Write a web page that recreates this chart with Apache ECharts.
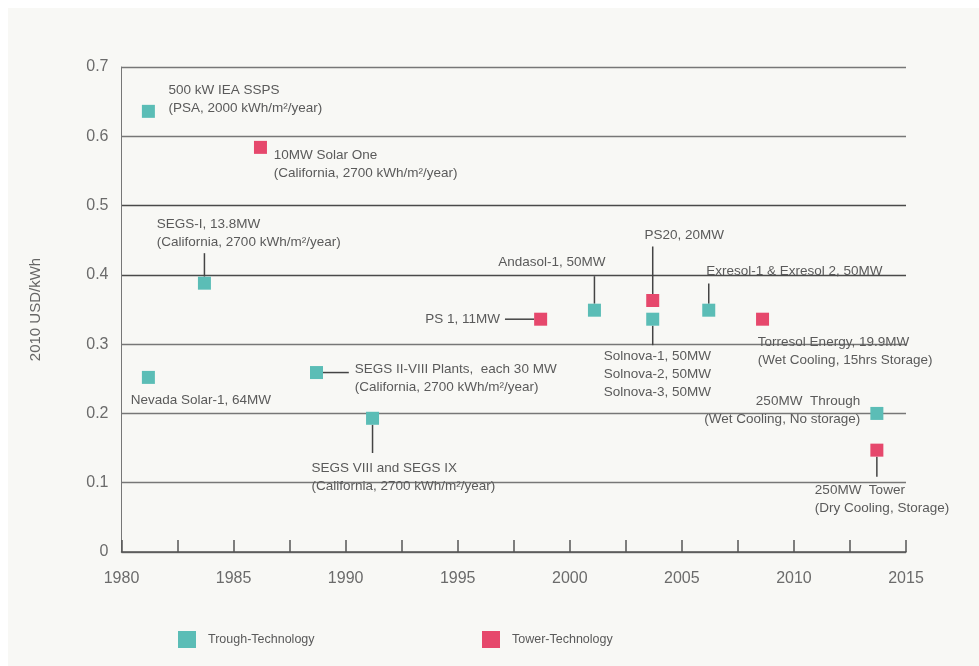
<!DOCTYPE html>
<html>
<head>
<meta charset="utf-8">
<script src="https://cdn.jsdelivr.net/npm/echarts@6/dist/echarts.min.js"></script>
<style>
  html, body { margin: 0; padding: 0; background: #ffffff; }
  #panel { position: absolute; left: 8px; top: 8px; width: 971px; height: 658px; background: #f8f8f5; }
  #chart { position: absolute; left: 0; top: 0; width: 979px; height: 666px; }
</style>
</head>
<body>
<div id="panel"></div>
<div id="chart"></div>
<script>
// ---- data ----
var troughNames = [
  '500 kW IEA SSPS\n(PSA, 2000 kWh/m²/year)',
  'SEGS-I, 13.8MW\n(California, 2700 kWh/m²/year)',
  'Nevada Solar-1, 64MW',
  'SEGS II-VIII Plants,  each 30 MW\n(California, 2700 kWh/m²/year)',
  'SEGS VIII and SEGS IX\n(California, 2700 kWh/m²/year)',
  'Andasol-1, 50MW',
  'Solnova-1, 50MW\nSolnova-2, 50MW\nSolnova-3, 50MW',
  'Exresol-1 & Exresol 2, 50MW',
  '250MW  Through\n(Wet Cooling, No storage)'
];
var troughYears = [1981.2, 1983.7, 1981.2, 1988.7, 1991.2, 2001.1, 2003.7, 2006.2, 2013.7];
var troughCosts = [0.636, 0.388, 0.252, 0.259, 0.193, 0.349, 0.336, 0.349, 0.200];

var towerNames = [
  '10MW Solar One\n(California, 2700 kWh/m²/year)',
  'PS 1, 11MW',
  'PS20, 20MW',
  'Torresol Energy, 19.9MW\n(Wet Cooling, 15hrs Storage)',
  '250MW  Tower\n(Dry Cooling, Storage)'
];
var towerYears = [1986.2, 1998.7, 2003.7, 2008.6, 2013.7];
var towerCosts = [0.584, 0.336, 0.363, 0.336, 0.147];

var yTicks = [0, 0.1, 0.2, 0.3, 0.4, 0.5, 0.6, 0.7];
var xTickLabels = [1980, 1985, 1990, 1995, 2000, 2005, 2010, 2015];

// ---- annotation layout (pixel offsets from the marker centre) ----
var troughLabelLayout = [
  { dx: 20, dy: -12.5, align: 'left' },
  { dx: -47.6, dy: -50, align: 'left' },
  { dx: -17.7, dy: 22.7, align: 'left' },
  { dx: 38.3, dy: 6, align: 'left' },
  { dx: -61, dy: 59.3, align: 'left' },
  { dx: 11, dy: -47.7, align: 'right' },
  { dx: -49, dy: 55, align: 'left' },
  { dx: -2.6, dy: -39.3, align: 'left' },
  { dx: -16.7, dy: -3.6, align: 'right' }
];
var towerLabelLayout = [
  { dx: 13.3, dy: 16.7, align: 'left' },
  { dx: -40.7, dy: 0, align: 'right' },
  { dx: -8.3, dy: -65.7, align: 'left' },
  { dx: -4.7, dy: 32.2, align: 'left' },
  { dx: -62, dy: 49.5, align: 'left' }
];
// connectors: which point, and line from/to offsets in pixels
var connectorLayout = [
  { s: 'trough', i: 1, from: [0, -30], to: [0, -6.5] },
  { s: 'trough', i: 3, from: [6.5, 0], to: [32.3, 0] },
  { s: 'trough', i: 4, from: [0, 6.5], to: [0, 34.7] },
  { s: 'trough', i: 5, from: [0, -34], to: [0, -6.5] },
  { s: 'trough', i: 6, from: [0, 6.5], to: [0, 26] },
  { s: 'trough', i: 7, from: [0, -26.7], to: [0, -6.5] },
  { s: 'tower', i: 1, from: [-35.7, 0], to: [-6.5, 0] },
  { s: 'tower', i: 2, from: [0, -54], to: [0, -6.5] },
  { s: 'tower', i: 4, from: [0, 6.5], to: [0, 26.7] }
];

var TEAL = '#5bbdb6';
var PINK = '#e6486c';
var FONT = 'Liberation Sans';

function buildPoints(years, costs, names, layout) {
  return years.map(function (y, k) {
    var L = layout[k];
    return {
      value: [y, costs[k]],
      name: names[k],
      label: {
        show: true,
        position: 'inside',
        offset: [L.dx, L.dy],
        align: L.align,
        verticalAlign: 'middle',
        formatter: names[k]
      }
    };
  });
}

var connectorData = connectorLayout.map(function (c) {
  var ys = c.s === 'trough' ? troughYears : towerYears;
  var cs = c.s === 'trough' ? troughCosts : towerCosts;
  return [ys[c.i], cs[c.i], c.from[0], c.from[1], c.to[0], c.to[1]];
});

var chart = echarts.init(document.getElementById('chart'), null, { renderer: 'canvas' });

var labelStyle = { color: '#5a5a5a', fontSize: 13.5, lineHeight: 18, fontFamily: FONT };

chart.setOption({
  backgroundColor: 'transparent',
  animation: false,
  grid: { left: 121.5, right: 73, top: 67, bottom: 114 },
  legend: [
    { data: ['Trough-Technology'], left: 173, top: 626, itemWidth: 18, itemHeight: 17, icon: 'rect',
      textStyle: { color: '#5a5a5a', fontSize: 12.5, fontFamily: FONT, padding: [0, 0, 0, 7] } },
    { data: ['Tower-Technology'], left: 477, top: 626, itemWidth: 18, itemHeight: 17, icon: 'rect',
      textStyle: { color: '#5a5a5a', fontSize: 12.5, fontFamily: FONT, padding: [0, 0, 0, 7] } }
  ],
  xAxis: {
    type: 'value', min: 1980, max: 2015, interval: 2.5,
    axisLine: { show: true, lineStyle: { color: '#555', width: 1.5 } },
    axisTick: { show: true, inside: true, length: 12, lineStyle: { color: '#555', width: 1.5 } },
    splitLine: { show: false },
    axisLabel: {
      margin: 19, color: '#6b6b6b', fontSize: 16, fontFamily: FONT,
      formatter: function (v) { return xTickLabels.indexOf(v) >= 0 ? String(v) : ''; }
    }
  },
  yAxis: {
    type: 'value', min: 0, max: 0.7, interval: 0.1,
    name: '2010 USD/kWh', nameLocation: 'middle', nameGap: 78, nameRotate: 90,
    nameTextStyle: { color: '#666', fontSize: 15, fontFamily: FONT },
    axisLine: { show: true, lineStyle: { color: '#777', width: 1 } },
    axisTick: { show: false },
    splitLine: { show: true, lineStyle: { color: ['#777', '#777', '#777', '#777', '#4a4a4a', '#4a4a4a', '#777', '#777'], width: 1.3 } },
    axisLabel: {
      margin: 13, color: '#6b6b6b', fontSize: 16, fontFamily: FONT,
      formatter: function (v) {
        var t = yTicks.filter(function (x) { return Math.abs(x - v) < 1e-9; })[0];
        return t === 0 ? '0' : String(+v.toFixed(1));
      }
    }
  },
  series: [
    {
      name: 'connectors', type: 'custom', silent: true, z: 1,
      encode: { x: 0, y: 1 },
      data: connectorData,
      renderItem: function (params, api) {
        var p = api.coord([api.value(0), api.value(1)]);
        return {
          type: 'line',
          shape: { x1: p[0] + api.value(2), y1: p[1] + api.value(3), x2: p[0] + api.value(4), y2: p[1] + api.value(5) },
          style: { stroke: '#444', lineWidth: 1.5 }
        };
      }
    },
    {
      name: 'Trough-Technology', type: 'scatter', symbol: 'rect', symbolSize: 13, z: 3,
      itemStyle: { color: TEAL, opacity: 1 },
      label: labelStyle,
      data: buildPoints(troughYears, troughCosts, troughNames, troughLabelLayout)
    },
    {
      name: 'Tower-Technology', type: 'scatter', symbol: 'rect', symbolSize: 13, z: 3,
      itemStyle: { color: PINK, opacity: 1 },
      label: labelStyle,
      data: buildPoints(towerYears, towerCosts, towerNames, towerLabelLayout)
    }
  ]
});
</script>
</body>
</html>
